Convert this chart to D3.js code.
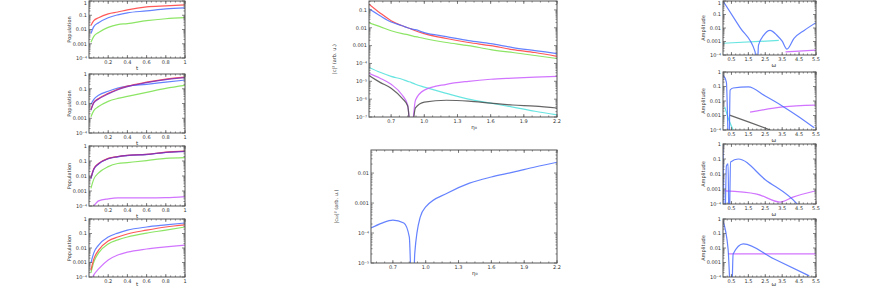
<!DOCTYPE html>
<html>
<head>
<meta charset="utf-8">
<script src="https://cdn.jsdelivr.net/npm/d3@7"></script>
<style>
body{margin:0;background:#fff}
svg{display:block;font-family:"DejaVu Sans",sans-serif}
</style>
</head>
<body>
<div id="chart"></div>
<script>
// ---- left column, 4 panels sharing the same x grid
var leftX = [0.02, 0.05, 0.1, 0.2, 0.3, 0.4, 0.6, 0.8, 1.0];
var leftXTicks = [0.2, 0.4, 0.6, 0.8, 1.0];
var leftXLabels = ["0.2", "0.4", "0.6", "0.8", "1"];
var leftYTicks = [1e-4, 1e-3, 1e-2, 1e-1, 1];
var leftYLabels = ["10⁻⁴", "0.001", "0.01", "0.1", "1"];

var l1Red   = [1.9e-2, 4.2e-2, 6.7e-2, 0.126, 0.17, 0.24, 0.39, 0.46, 0.53];
var l1Blue  = [5.2e-3, 1.6e-2, 3.0e-2, 6.7e-2, 0.107, 0.148, 0.20, 0.28, 0.33];
var l1Green = [1.26e-3, 3.3e-3, 6.2e-3, 1.4e-2, 2.2e-2, 2.6e-2, 4.2e-2, 5.7e-2, 6.8e-2];

var l2Red    = [3.9e-3, 1.2e-2, 2.2e-2, 4.9e-2, 9.3e-2, 0.15, 0.28, 0.45, 0.62];
var l2Purple = [3.5e-3, 1.1e-2, 2.0e-2, 4.5e-2, 8.6e-2, 0.14, 0.26, 0.42, 0.57];
var l2Blue   = [8.5e-3, 1.9e-2, 3.6e-2, 6.8e-2, 0.11, 0.15, 0.20, 0.28, 0.39];
var l2Green  = [1.26e-3, 3.3e-3, 6.2e-3, 1.4e-2, 2.2e-2, 3.0e-2, 5.7e-2, 0.107, 0.17];

var l3Red     = [7.2e-3, 3.0e-2, 6.8e-2, 0.15, 0.20, 0.24, 0.28, 0.39, 0.45];
var l3Blue    = [6.6e-3, 2.7e-2, 6.2e-2, 0.14, 0.19, 0.23, 0.27, 0.37, 0.43];
var l3Purple  = [7.0e-3, 2.9e-2, 6.5e-2, 0.145, 0.195, 0.235, 0.275, 0.38, 0.44];
var l3Green   = [1.5e-3, 6.2e-3, 1.6e-2, 4.2e-2, 6.8e-2, 7.9e-2, 0.107, 0.15, 0.17];
var l3Magenta = [5e-5, 1.0e-4, 2.2e-4, 3.0e-4, 3.5e-4, 3.5e-4, 3.5e-4, 3.6e-4, 4.2e-4];

var l4Blue    = [9.3e-4, 4.6e-3, 1.6e-2, 5.7e-2, 0.107, 0.17, 0.28, 0.39, 0.53];
var l4Red     = [3.0e-4, 1.7e-3, 7.2e-3, 3.0e-2, 5.7e-2, 9.3e-2, 0.17, 0.28, 0.39];
var l4Green   = [1.9e-4, 1.07e-3, 4.6e-3, 1.9e-2, 3.6e-2, 5.7e-2, 0.107, 0.17, 0.28];
var l4Magenta = [5e-5, 1.4e-4, 3.6e-4, 1.5e-3, 3.3e-3, 5.2e-3, 8.5e-3, 1.2e-2, 1.6e-2];

// ---- middle column
var midX = [0.5, 0.6, 0.7, 0.8, 0.85, 0.88, 0.92, 1.0, 1.2, 1.4, 1.6, 1.8, 2.0, 2.2];
var midXTicks = [0.7, 1.0, 1.3, 1.6, 1.9, 2.2];
var midXLabels = ["0.7", "1.0", "1.3", "1.6", "1.9", "2.2"];
var midYTicks = [1e-7, 1e-6, 1e-5, 1e-4, 1e-3, 1e-2, 1e-1];
var midYLabels = ["10⁻⁷", "10⁻⁶", "10⁻⁵", "10⁻⁴", "0.001", "0.01", "0.1"];

var mRed     = [0.21, 0.068, 0.025, 0.013, 0.010, 0.0087, 0.0068, 0.0047, 0.0025, 0.0015, 0.0010, 0.0006, 0.00041, 0.00025];
var mBlue    = [0.115, 0.047, 0.021, 0.013, 0.010, 0.0087, 0.0078, 0.0053, 0.0032, 0.0019, 0.0013, 0.00078, 0.00053, 0.00036];
var mGreen   = [0.019, 0.0115, 0.0068, 0.0047, 0.0041, 0.0036, 0.0032, 0.0025, 0.0015, 0.0010, 0.0006, 0.00041, 0.00028, 0.00019];
var mCyan    = [6.0e-5, 3.2e-5, 1.9e-5, 1.3e-5, 1.0e-5, 8.7e-6, 6.8e-6, 4.7e-6, 2.1e-6, 1.0e-6, 6.0e-7, 3.6e-7, 2.1e-7, 1.3e-7];
var mMagenta = [2.8e-5, 1.5e-5, 6.8e-6, 1.7e-6, 4.7e-7, 1e-8, 8.7e-7, 3.2e-6, 6.8e-6, 1.0e-5, 1.3e-5, 1.5e-5, 1.7e-5, 1.9e-5];
var mGrey    = [2.1e-5, 8.7e-6, 4.1e-6, 1.1e-6, 4.1e-7, 1e-8, 3.2e-7, 6.8e-7, 8.7e-7, 7.8e-7, 6.0e-7, 4.7e-7, 4.1e-7, 3.2e-7];

var mbX = [0.5, 0.6, 0.7, 0.8, 0.85, 0.88, 0.9, 0.95, 1.0, 1.2, 1.4, 1.6, 1.8, 2.0, 2.2];
var mbBlue = [1.47e-4, 2.15e-4, 2.7e-4, 2.15e-4, 7.4e-5, 1e-7, 2.1e-5, 3.4e-4, 7.4e-4, 2.15e-3, 4.6e-3, 7.4e-3, 1.07e-2, 1.6e-2, 2.3e-2];
var mbYTicks = [1e-5, 1e-4, 1e-3, 1e-2];
var mbYLabels = ["10⁻⁵", "10⁻⁴", "0.001", "0.01"];

// ---- right column
var rightXTicks = [0.5, 1.5, 2.5, 3.5, 4.5, 5.5];
var rightXLabels = ["0.5", "1.5", "2.5", "3.5", "4.5", "5.5"];
var rightYTicks = [1e-4, 1e-3, 1e-2, 1e-1, 1];
var rightYLabels = ["10⁻⁴", "0.001", "0.01", "0.1", "1"];

var r1BlueX = [0, 1.0, 1.9, 2.0, 2.1, 2.4, 2.78, 3.2, 3.5, 3.78, 4.2, 4.8, 5.5];
var r1Blue  = [1.0, 1.1e-2, 1.7e-4, 1e-6, 5.4e-4, 2.8e-3, 6.6e-3, 2.8e-3, 1.05e-3, 2.7e-4, 1.7e-3, 6.6e-3, 2.5e-2];
var r1CyanX = [0, 3.3];
var r1Cyan  = [7.4e-4, 1.2e-3];
var r1MagX  = [3.7, 5.5];
var r1Mag   = [1.7e-4, 2.3e-4];

var r2BlueX = [0, 0.2, 0.35, 0.42, 0.6, 1.5, 2.5, 3.5, 4.5, 5.4];
var r2Blue  = [0.62, 0.2, 1e-6, 5.7e-2, 7.9e-2, 9.3e-2, 2.2e-2, 4.6e-3, 7.9e-4, 1.4e-4];
var r2CyanX = [0.1, 0.35, 0.6];
var r2Cyan  = [3.9e-3, 4.9e-4, 1e-4];
var r2GreyX = [0.38, 1.5, 2.8];
var r2Grey  = [1.07e-3, 3.6e-4, 1e-4];
var r2MagX  = [1.6, 3.55, 5.45];
var r2Mag   = [1.7e-3, 3.9e-3, 5.2e-3];

var r3BlueX = [0, 0.1, 0.2, 0.3, 0.36, 0.45, 0.9, 2.5, 4.38, 4.6];
var r3Blue  = [1.0, 1e-6, 0.034, 0.047, 1e-6, 0.063, 0.1, 4.2e-3, 1e-4, 5e-5];
var r3MagX  = [0.1, 2.0, 3.37, 4.14, 5.44];
var r3Mag   = [7.4e-4, 4.6e-4, 1.35e-4, 2.9e-4, 7.4e-4];

var r4BlueX = [0, 0.3, 0.5, 0.6, 1.2, 3.0, 5.1];
var r4Blue  = [0.72, 8.5e-3, 1e-6, 3.9e-3, 0.019, 1.8e-3, 1.2e-4];
var r4MagX  = [0.3, 5.5];
var r4Mag   = [3.9e-3, 3.9e-3];

var C = {blue: "#4a6cff", red: "#ff3b3b", green: "#78e04a", cyan: "#4fe0dc",
         magenta: "#c95cff", purple: "#7a2fc0", grey: "#4a4a4a"};

function s(x, y, c) { return {x: x, y: y, color: c}; }

var panels = [
  {l: 89, t: 1, w: 96, h: 57, xd: [0, 1], yd: [1e-4, 1], xt: leftXTicks, xl: leftXLabels, yt: leftYTicks, yl: leftYLabels,
   xLab: "t", yLab: "Population",
   series: [s(leftX, l1Green, C.green), s(leftX, l1Blue, C.blue), s(leftX, l1Red, C.red)]},
  {l: 89, t: 74, w: 96, h: 59, xd: [0, 1], yd: [1e-4, 1], xt: leftXTicks, xl: leftXLabels, yt: leftYTicks, yl: leftYLabels,
   xLab: "t", yLab: "Population",
   series: [s(leftX, l2Green, C.green), s(leftX, l2Blue, C.blue), s(leftX, l2Red, C.red), s(leftX, l2Purple, C.purple)]},
  {l: 89, t: 146, w: 96, h: 60, xd: [0, 1], yd: [1e-4, 1], xt: leftXTicks, xl: leftXLabels, yt: leftYTicks, yl: leftYLabels,
   xLab: "t", yLab: "Population",
   series: [s(leftX, l3Magenta, C.magenta), s(leftX, l3Green, C.green), s(leftX, l3Blue, C.blue), s(leftX, l3Red, C.red), s(leftX, l3Purple, C.purple)]},
  {l: 89, t: 219, w: 96, h: 58, xd: [0, 1], yd: [1e-4, 1], xt: leftXTicks, xl: leftXLabels, yt: leftYTicks, yl: leftYLabels,
   xLab: "t", yLab: "Population",
   series: [s(leftX, l4Magenta, C.magenta), s(leftX, l4Green, C.green), s(leftX, l4Red, C.red), s(leftX, l4Blue, C.blue)]},

  {l: 369, t: 1, w: 188, h: 116, xd: [0.5, 2.2], yd: [1e-7, Math.pow(10, -0.5)], xt: midXTicks, xl: midXLabels, yt: midYTicks, yl: midYLabels,
   xLab: "η₀", yLab: "|c|² (arb. u.)",
   series: [s(midX, mGreen, C.green), s(midX, mRed, C.red), s(midX, mBlue, C.blue), s(midX, mCyan, C.cyan),
            s(midX, mMagenta, C.magenta), s(midX, mGrey, C.grey)]},
  {l: 371, t: 150, w: 186, h: 113, xd: [0.5, 2.2], yd: [1e-5, Math.pow(10, -1.23)], xt: midXTicks, xl: midXLabels, yt: mbYTicks, yl: mbYLabels,
   xLab: "η₀", yLab: "|c₁₂|² (arb. u.)",
   series: [s(mbX, mbBlue, C.blue)]},

  {l: 723, t: 1, w: 93, h: 54, xd: [0, 5.5], yd: [1e-4, 1], xt: rightXTicks, xl: rightXLabels, yt: rightYTicks, yl: rightYLabels,
   xLab: "ω", yLab: "Amplitude",
   series: [s(r1CyanX, r1Cyan, C.cyan), s(r1MagX, r1Mag, C.magenta), s(r1BlueX, r1Blue, C.blue)]},
  {l: 723, t: 72, w: 93, h: 58, xd: [0, 5.5], yd: [1e-4, 1], xt: rightXTicks, xl: rightXLabels, yt: rightYTicks, yl: rightYLabels,
   xLab: "ω", yLab: "Amplitude",
   series: [s(r2CyanX, r2Cyan, C.cyan), s(r2GreyX, r2Grey, C.grey), s(r2MagX, r2Mag, C.magenta), s(r2BlueX, r2Blue, C.blue)]},
  {l: 723, t: 144, w: 93, h: 60, xd: [0, 5.5], yd: [1e-4, 1], xt: rightXTicks, xl: rightXLabels, yt: rightYTicks, yl: rightYLabels,
   xLab: "ω", yLab: "Amplitude",
   series: [s(r3MagX, r3Mag, C.magenta), s(r3BlueX, r3Blue, C.blue)]},
  {l: 723, t: 219, w: 93, h: 58, xd: [0, 5.5], yd: [1e-4, 1], xt: rightXTicks, xl: rightXLabels, yt: rightYTicks, yl: rightYLabels,
   xLab: "ω", yLab: "Amplitude",
   series: [s(r4MagX, r4Mag, C.magenta), s(r4BlueX, r4Blue, C.blue)]}
];

var svg = d3.select("#chart").append("svg")
  .attr("width", 885)
  .attr("height", 288);
svg.append("rect").attr("width", 885).attr("height", 288).attr("fill", "#fff");

function minorLog(dom) {
  var out = [];
  var lo = Math.floor(Math.log10(dom[0])), hi = Math.ceil(Math.log10(dom[1]));
  for (var k = lo; k <= hi; k++) {
    for (var m = 2; m <= 9; m++) {
      var v = m * Math.pow(10, k);
      if (v > dom[0] && v < dom[1]) out.push(v);
    }
  }
  return out;
}

panels.forEach(function(p, i) {
  var x = d3.scaleLinear().domain(p.xd).range([0, p.w]);
  var y = d3.scaleLog().domain(p.yd).range([p.h, 0]);
  var g = svg.append("g").attr("transform", "translate(" + p.l + "," + p.t + ")");

  g.append("clipPath").attr("id", "clip" + i)
    .append("rect").attr("width", p.w).attr("height", p.h);

  var line = d3.line()
    .x(function(d) { return x(d[0]); })
    .y(function(d) { return y(d[1]); })
    .curve(d3.curveMonotoneX);

  var plot = g.append("g").attr("clip-path", "url(#clip" + i + ")");
  p.series.forEach(function(se) {
    plot.append("path")
      .datum(d3.zip(se.x, se.y))
      .attr("d", line)
      .attr("fill", "none")
      .attr("stroke", se.color)
      .attr("stroke-width", 1.2)
      .attr("stroke-opacity", 0.85);
  });

  // frame + ticks on all four sides
  g.append("rect").attr("width", p.w).attr("height", p.h)
    .attr("fill", "none").attr("stroke", "#555").attr("stroke-width", 1);

  var tk = g.append("g").attr("stroke", "#555").attr("stroke-width", 0.7);
  p.xt.forEach(function(v) {
    tk.append("line").attr("x1", x(v)).attr("x2", x(v)).attr("y1", p.h).attr("y2", p.h - 3);
    tk.append("line").attr("x1", x(v)).attr("x2", x(v)).attr("y1", 0).attr("y2", 3);
  });
  var step = (p.xt[1] - p.xt[0]) / 4;
  for (var v = p.xt[0] - 4 * step; v <= p.xd[1] + 1e-9; v += step) {
    if (v <= p.xd[0]) continue;
    tk.append("line").attr("x1", x(v)).attr("x2", x(v)).attr("y1", p.h).attr("y2", p.h - 1.5);
    tk.append("line").attr("x1", x(v)).attr("x2", x(v)).attr("y1", 0).attr("y2", 1.5);
  }
  p.yt.forEach(function(v) {
    tk.append("line").attr("x1", 0).attr("x2", 3).attr("y1", y(v)).attr("y2", y(v));
    tk.append("line").attr("x1", p.w).attr("x2", p.w - 3).attr("y1", y(v)).attr("y2", y(v));
  });
  minorLog(p.yd).forEach(function(v) {
    tk.append("line").attr("x1", 0).attr("x2", 1.5).attr("y1", y(v)).attr("y2", y(v));
    tk.append("line").attr("x1", p.w).attr("x2", p.w - 1.5).attr("y1", y(v)).attr("y2", y(v));
  });

  // tick labels (kept inside the window at the top)
  var lab = g.append("g").attr("fill", "#333").attr("font-size", 5);
  p.xt.forEach(function(v, j) {
    lab.append("text").attr("x", x(v)).attr("y", p.h + 6)
      .attr("text-anchor", "middle").text(p.xl[j]);
  });
  p.yt.forEach(function(v, j) {
    lab.append("text").attr("x", -2).attr("y", Math.max(y(v) + 1.8, 5 - p.t))
      .attr("text-anchor", "end").text(p.yl[j]);
  });

  // axis titles; x title sits between the two middle tick labels
  var n = p.xt.length, mid = Math.floor(n / 2);
  var tx = x((p.xt[mid - 1] + p.xt[mid]) / 2);
  g.append("text").attr("x", tx).attr("y", Math.min(p.h + 12, 286 - p.t))
    .attr("text-anchor", "middle").attr("font-size", 5.5).attr("fill", "#333").text(p.xLab);
  g.append("text")
    .attr("transform", "translate(" + (p.w > 150 ? -33 : -18) + "," + (p.h / 2) + ") rotate(-90)")
    .attr("text-anchor", "middle").attr("font-size", 5).attr("fill", "#333").text(p.yLab);
});
</script>
</body>
</html>
